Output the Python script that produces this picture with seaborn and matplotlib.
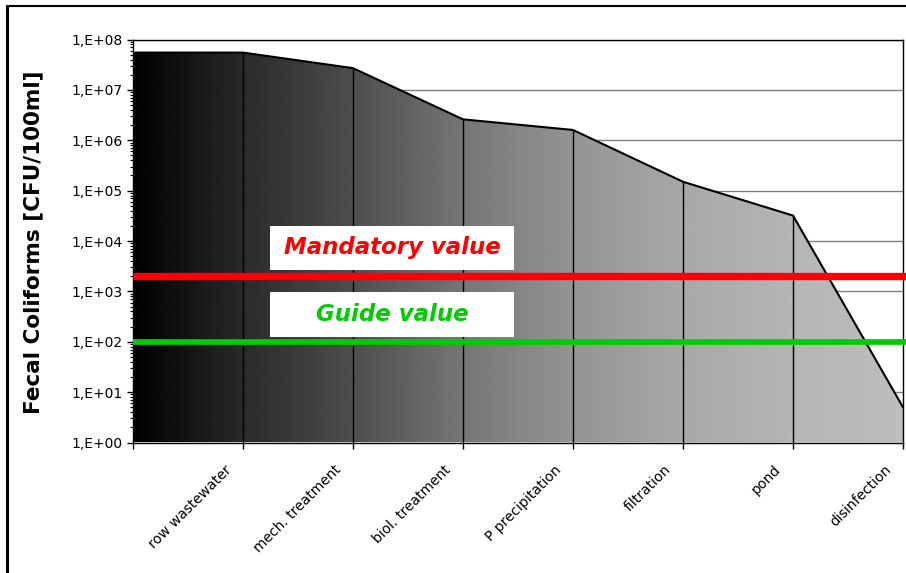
import numpy as np
import pandas as pd
import matplotlib
matplotlib.use("Agg")
import matplotlib.pyplot as plt
import matplotlib.transforms as mtransforms
from matplotlib.patches import Polygon, Rectangle
from matplotlib.lines import Line2D
from matplotlib.ticker import FixedLocator, LogLocator, NullFormatter
import seaborn as sns

# ---------------- data ----------------
stages = ["row wastewater", "mech. treatment", "biol. treatment",
          "P precipitation", "filtration", "pond", "disinfection"]
coliforms = [5.5e7, 2.7e7, 2.6e6, 1.6e6, 1.5e5, 3.2e4, 5.0]
mandatory_value = 2000
guide_value = 100
y_tick_values = [1e0, 1e1, 1e2, 1e3, 1e4, 1e5, 1e6, 1e7, 1e8]
y_tick_labels = ["1,E+00", "1,E+01", "1,E+02", "1,E+03", "1,E+04",
                 "1,E+05", "1,E+06", "1,E+07", "1,E+08"]
y_label = "Fecal Coliforms [CFU/100ml]"

# ---------------- style ----------------
sns.set_theme(style="white")
plt.rcParams["font.family"] = ["DejaVu Sans"]

W, H = 906, 573
fig = plt.figure(figsize=(W / 100, H / 100), dpi=100)
fig.patch.set_facecolor("white")
ax = fig.add_axes([133 / W, (H - 442.5) / H, 770 / W, 403 / H])
ax.set_facecolor("white")
ax.set_yscale("log")

# positions: area starts at the left edge with the first value
x_pos = np.arange(len(stages) + 1)
y_vals = [coliforms[0]] + list(coliforms)
df = pd.DataFrame({"pos": x_pos, "cfu": y_vals})

# gradient-filled area
verts = [(x_pos[0], 1)] + list(zip(x_pos, y_vals)) + [(x_pos[-1], 1)]
poly = Polygon(verts, closed=True, facecolor="none", edgecolor="none",
               transform=ax.transData)
ax.add_patch(poly)
levels = np.array([0, 42, 78, 118, 148, 168, 181, 189]) / 255.0
gx = np.linspace(0, len(stages), 800)
g = np.interp(gx, x_pos, levels)
img = np.tile(g, (2, 1))
im = ax.imshow(img, cmap="gray", vmin=0, vmax=1, extent=[0, 1, 0, 1],
               transform=ax.transAxes, aspect="auto",
               interpolation="bilinear", zorder=1)
im.set_clip_path(poly)

ax.set_autoscale_on(False)
ax.set_xlim(0, len(stages))
ax.set_ylim(1, 1e8)

# drop lines
ax.vlines(x_pos[1:-1], 1, y_vals[1:-1], colors="black", lw=1, zorder=3)

# outline via seaborn
sns.lineplot(data=df, x="pos", y="cfu", color="black", lw=1.5, ax=ax,
             zorder=4, legend=False)
ax.set_xlim(0, len(stages))
ax.set_ylim(1, 1e8)

# reference lines
ytr = ax.get_yaxis_transform()
ax.plot([0, 1.004], [mandatory_value] * 2, transform=ytr, color="#ff0000",
        lw=5.3, clip_on=False, solid_capstyle="butt", zorder=5)
ax.plot([0, 1.004], [guide_value] * 2, transform=ytr, color="#00cc00",
        lw=4.1, clip_on=False, solid_capstyle="butt", zorder=5)

# label boxes
ax.add_patch(Rectangle((0.178, 0.428), 0.317, 0.109, transform=ax.transAxes,
                       facecolor="white", edgecolor="none", zorder=6))
ax.add_patch(Rectangle((0.178, 0.262), 0.317, 0.111, transform=ax.transAxes,
                       facecolor="white", edgecolor="none", zorder=6))
ax.text(0.3365, 0.483, "Mandatory value", transform=ax.transAxes,
        color="#ff0000", fontsize=16.5, fontweight="bold", style="italic",
        ha="center", va="center", zorder=7)
ax.text(0.3365, 0.318, "Guide value", transform=ax.transAxes,
        color="#00cc00", fontsize=16.5, fontweight="bold", style="italic",
        ha="center", va="center", zorder=7)

# grid
ax.yaxis.grid(True, which="major", color="#808080", lw=1)
ax.xaxis.grid(False)
ax.set_axisbelow(True)

# spines
for s in ax.spines.values():
    s.set_color("black")
    s.set_linewidth(1)
    s.set_visible(True)

# y axis ticks
ax.yaxis.set_major_locator(FixedLocator(y_tick_values))
ax.set_yticklabels(y_tick_labels)
ax.yaxis.set_minor_locator(LogLocator(base=10, subs=np.arange(2, 10), numticks=20))
ax.yaxis.set_minor_formatter(NullFormatter())
ax.tick_params(axis="y", which="major", left=True, direction="out", length=4.5,
               width=1, color="black", labelsize=10, pad=3, labelcolor="black")
ax.tick_params(axis="y", which="minor", left=True, direction="out", length=2.5,
               width=0.8, color="black")

# x axis ticks
ax.set_xticks(x_pos)
ax.set_xticklabels([""] + stages)
ax.tick_params(axis="x", which="major", bottom=True, direction="out", length=4.5,
               width=1, color="black", labelsize=10, pad=10, labelcolor="black")
offset = mtransforms.ScaledTranslation(-19 / 100, 0, fig.dpi_scale_trans)
for lbl in ax.get_xticklabels():
    lbl.set_rotation(45)
    lbl.set_ha("right")
    lbl.set_va("top")
    lbl.set_rotation_mode("anchor")
    lbl.set_transform(lbl.get_transform() + offset)

ax.set_xlabel("")
ax.set_ylabel("")
fig.text(33 / W, 1 - 242 / H, y_label, rotation=90, fontsize=15.5,
         fontweight="bold", ha="center", va="center", color="black")

# outer frame (clipped on right/bottom)
fig.add_artist(Line2D([6.5 / W, 6.5 / W], [-0.01, 1 - 6 / H],
                      transform=fig.transFigure, color="black", lw=2.2))
fig.add_artist(Line2D([6.5 / W, 1.01], [1 - 6 / H, 1 - 6 / H],
                      transform=fig.transFigure, color="black", lw=1.5))

fig.savefig("out.png", dpi=100)
